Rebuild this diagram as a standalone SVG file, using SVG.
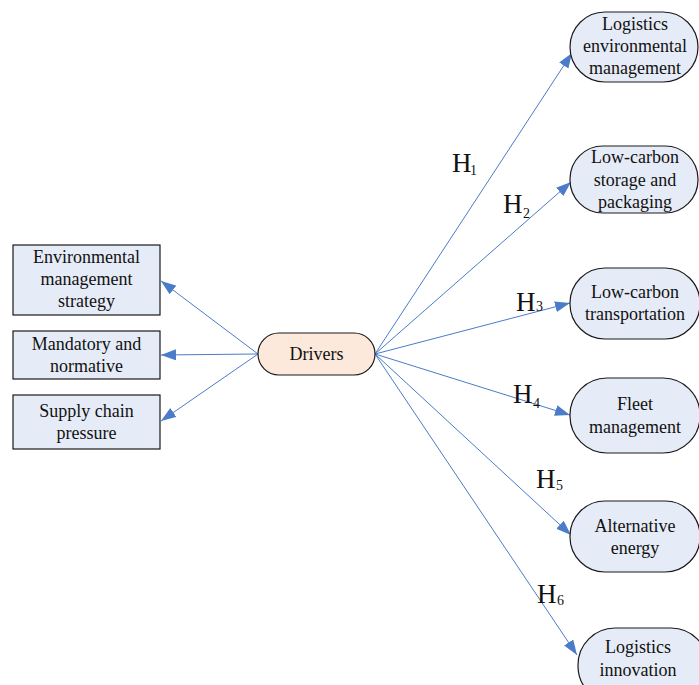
<svg xmlns="http://www.w3.org/2000/svg" width="699" height="685" viewBox="0 0 699 685">
<style>
.box{fill:#E6ECF7;stroke:#1a1a1a;stroke-width:1.2}
.drv{fill:#FCE9DC;stroke:#1a1a1a;stroke-width:1.2}
.t{font-family:"Liberation Serif","Times New Roman",serif;font-size:18px;fill:#111;text-anchor:middle}
.h{font-family:"Liberation Serif","Times New Roman",serif;font-size:27px;fill:#111}
.s{font-family:"Liberation Serif","Times New Roman",serif;font-size:14px;fill:#111}
.c{stroke:#4A7CC9;stroke-width:1;fill:none;marker-end:url(#ah)}
</style>
<defs>
<marker id="ah" markerUnits="userSpaceOnUse" markerWidth="16" markerHeight="12" refX="15" refY="5.5" orient="auto">
<path d="M0,0 L15,5.5 L0,11 z" fill="#4A7CC9"/>
</marker>
</defs>
<g id="connectors">
<line class="c" x1="258" y1="354" x2="161" y2="281"/>
<line class="c" x1="258" y1="354" x2="161" y2="355"/>
<line class="c" x1="258" y1="354" x2="161" y2="421"/>
<line class="c" x1="375" y1="354" x2="572" y2="53"/>
<line class="c" x1="375" y1="354" x2="571" y2="182"/>
<line class="c" x1="375" y1="354" x2="570" y2="303"/>
<line class="c" x1="375" y1="354" x2="570" y2="415"/>
<line class="c" x1="375" y1="354" x2="571" y2="535"/>
<line class="c" x1="375" y1="354" x2="577" y2="655"/>
</g>
<g id="labels">
<text class="h" x="452" y="172">H</text><text class="s" x="470" y="175">1</text>
<text class="h" x="503" y="213">H</text><text class="s" x="523" y="218">2</text>
<text class="h" x="516" y="311">H</text><text class="s" x="536" y="311">3</text>
<text class="h" x="513" y="403">H</text><text class="s" x="533" y="408">4</text>
<text class="h" x="536" y="488">H</text><text class="s" x="556" y="490">5</text>
<text class="h" x="537" y="603">H</text><text class="s" x="557" y="605">6</text>
</g>
<g id="n-ems">
<rect class="box" x="13" y="245" width="147" height="70"/>
<text class="t" x="86.5" y="263">Environmental</text>
<text class="t" x="86.5" y="285">management</text>
<text class="t" x="86.5" y="307">strategy</text>
</g>
<g id="n-mandatory">
<rect class="box" x="13" y="331" width="147" height="48"/>
<text class="t" x="86.5" y="350">Mandatory and</text>
<text class="t" x="86.5" y="372">normative</text>
</g>
<g id="n-supply">
<rect class="box" x="13" y="395" width="147" height="54"/>
<text class="t" x="86.5" y="417">Supply chain</text>
<text class="t" x="86.5" y="439">pressure</text>
</g>
<g id="n-drivers">
<rect class="drv" x="258" y="333" width="117" height="42" rx="21" ry="21"/>
<text class="t" x="316.5" y="360">Drivers</text>
</g>
<g id="n-lem">
<rect class="box" x="570" y="12" width="128" height="70" rx="35" ry="35"/>
<text class="t" x="635" y="30">Logistics</text>
<text class="t" x="635" y="52">environmental</text>
<text class="t" x="635" y="74">management</text>
</g>
<g id="n-lcsp">
<rect class="box" x="570" y="146" width="128" height="67" rx="33" ry="33"/>
<text class="t" x="635" y="163">Low-carbon</text>
<text class="t" x="635" y="186">storage and</text>
<text class="t" x="635" y="208">packaging</text>
</g>
<g id="n-lct">
<rect class="box" x="570" y="268" width="130" height="71" rx="35" ry="35"/>
<text class="t" x="635" y="298">Low-carbon</text>
<text class="t" x="635" y="320">transportation</text>
</g>
<g id="n-fleet">
<rect class="box" x="570" y="378" width="130" height="75" rx="37" ry="37"/>
<text class="t" x="635" y="410">Fleet</text>
<text class="t" x="635" y="433">management</text>
</g>
<g id="n-alt">
<rect class="box" x="570" y="501" width="130" height="71" rx="35" ry="35"/>
<text class="t" x="635" y="532">Alternative</text>
<text class="t" x="635" y="554">energy</text>
</g>
<g id="n-li">
<rect class="box" x="578" y="628" width="130" height="75" rx="37" ry="37"/>
<text class="t" x="638" y="653">Logistics</text>
<text class="t" x="638" y="676">innovation</text>
</g>
</svg>
